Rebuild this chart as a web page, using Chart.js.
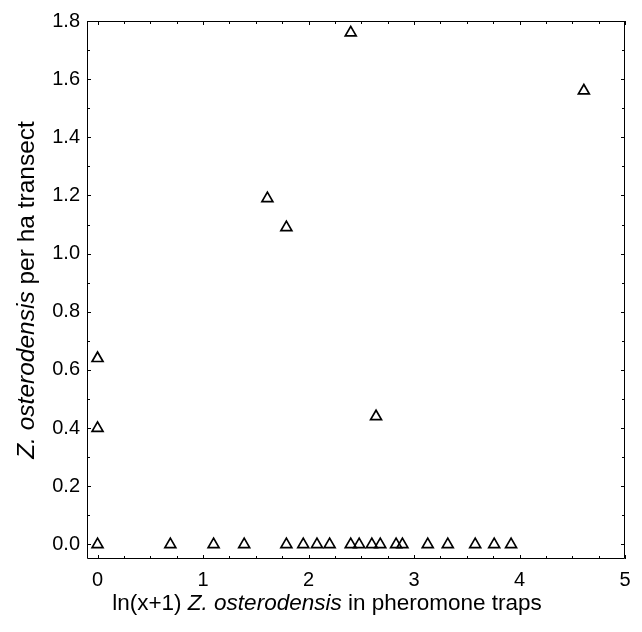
<!DOCTYPE html>
<html>
<head>
<meta charset="utf-8">
<script src="https://cdn.jsdelivr.net/npm/chart.js@4"></script>
<style>
html,body{margin:0;padding:0;background:#fff;}
#wrap{width:642px;height:632px;position:relative;}
</style>
</head>
<body>
<div id="wrap"><canvas id="c"></canvas></div>
<script>
// ---- data ----
const trapLnX = [0, 0, 0, 0.69, 1.10, 1.39, 1.61, 1.79, 1.79, 1.95, 2.08, 2.20, 2.40, 2.40, 2.48, 2.60, 2.64, 2.68, 2.83, 2.89, 3.13, 3.32, 3.58, 3.76, 3.92, 4.61];
const transectY = [0, 0.40, 0.64, 0, 0, 0, 1.19, 0, 1.09, 0, 0, 0, 0, 1.76, 0, 0, 0.44, 0, 0, 0, 0, 0, 0, 0, 0, 1.56];
const xTickValues = [0, 1, 2, 3, 4, 5];
const yTickValues = [0, 0.2, 0.4, 0.6, 0.8, 1.0, 1.2, 1.4, 1.6, 1.8];
const xTitleParts = [{t:'ln(x+1) ', i:false},{t:'Z. osterodensis', i:true},{t:' in pheromone traps', i:false}];
const yTitleParts = [{t:'Z. osterodensis', i:true},{t:' per ha transect', i:false}];

const FONT = '"Liberation Sans", Arial, sans-serif';
const points = trapLnX.map((x, k) => ({x: x, y: transectY[k]}));

function drawMixed(ctx, parts, size, cx, cy) {
  let total = 0;
  const widths = parts.map(p => {
    ctx.font = (p.i ? 'italic ' : '') + size + 'px ' + FONT;
    const w = ctx.measureText(p.t).width; total += w; return w;
  });
  let x = cx - total / 2;
  ctx.textAlign = 'left';
  ctx.textBaseline = 'alphabetic';
  parts.forEach((p, k) => {
    ctx.font = (p.i ? 'italic ' : '') + size + 'px ' + FONT;
    ctx.fillText(p.t, x, cy);
    x += widths[k];
  });
}

const framePlugin = {
  id: 'frame',
  afterDraw(chart) {
    const {ctx, chartArea: {left, right, top, bottom}, scales: {x, y}} = chart;
    ctx.save();
    ctx.strokeStyle = '#000';
    ctx.lineWidth = 1;
    ctx.beginPath();
    ctx.rect(left + 0.5, top + 0.5, right - left - 1, bottom - top - 1);
    ctx.stroke();
    const tick = (px, isX, len) => {
      const p = Math.round(px) + 0.5;
      if (isX) {
        ctx.moveTo(p, bottom); ctx.lineTo(p, bottom - len);
        ctx.moveTo(p, top); ctx.lineTo(p, top + len);
      } else {
        ctx.moveTo(left, p); ctx.lineTo(left + len, p);
        ctx.moveTo(right, p); ctx.lineTo(right - len, p);
      }
    };
    ctx.beginPath();
    for (let v = 0; v <= 5.0001; v += 0.25) {
      const major = Math.abs(v - Math.round(v)) < 1e-6;
      tick(x.getPixelForValue(v), true, major ? 4 : 3);
    }
    for (let k = 0; k <= 18; k++) {
      tick(y.getPixelForValue(k / 10), false, k % 2 === 0 ? 4 : 3);
    }
    ctx.stroke();
    // axis titles
    ctx.fillStyle = '#000';
    drawMixed(ctx, xTitleParts, 22.5, 327, 610);
    ctx.translate(34, (top + bottom) / 2);
    ctx.rotate(-Math.PI / 2);
    drawMixed(ctx, yTitleParts, 24.5, 0, 0);
    ctx.restore();
  }
};

new Chart(document.getElementById('c'), {
  type: 'scatter',
  data: {
    datasets: [{
      data: points,
      pointStyle: 'triangle',
      radius: 6.3,
      hoverRadius: 6.3,
      borderColor: '#000',
      backgroundColor: 'rgba(0,0,0,0)',
      borderWidth: 1.7
    }]
  },
  options: {
    responsive: true,
    maintainAspectRatio: false,
    animation: false,
    events: [],
    layout: {padding: {top: 21, right: 17, left: 0, bottom: 0}},
    plugins: {legend: {display: false}, tooltip: {enabled: false}},
    scales: {
      x: {
        type: 'linear', min: -0.1, max: 5,
        grid: {display: false, drawTicks: false},
        border: {display: false},
        afterBuildTicks: s => { s.ticks = xTickValues.map(v => ({value: v})); },
        afterFit: s => { s.height = 73; },
        ticks: {color: '#000', font: {family: FONT, size: 20}, padding: 9, maxRotation: 0,
                callback: v => String(v)}
      },
      y: {
        type: 'linear', min: -0.05, max: 1.8,
        grid: {display: false, drawTicks: false},
        border: {display: false},
        afterBuildTicks: s => { s.ticks = yTickValues.map(v => ({value: v})); },
        afterFit: s => { s.width = 87; },
        ticks: {color: '#000', font: {family: FONT, size: 20}, padding: 7,
                callback: v => Number(v).toFixed(1)}
      }
    }
  },
  plugins: [framePlugin]
});
</script>
</body>
</html>
